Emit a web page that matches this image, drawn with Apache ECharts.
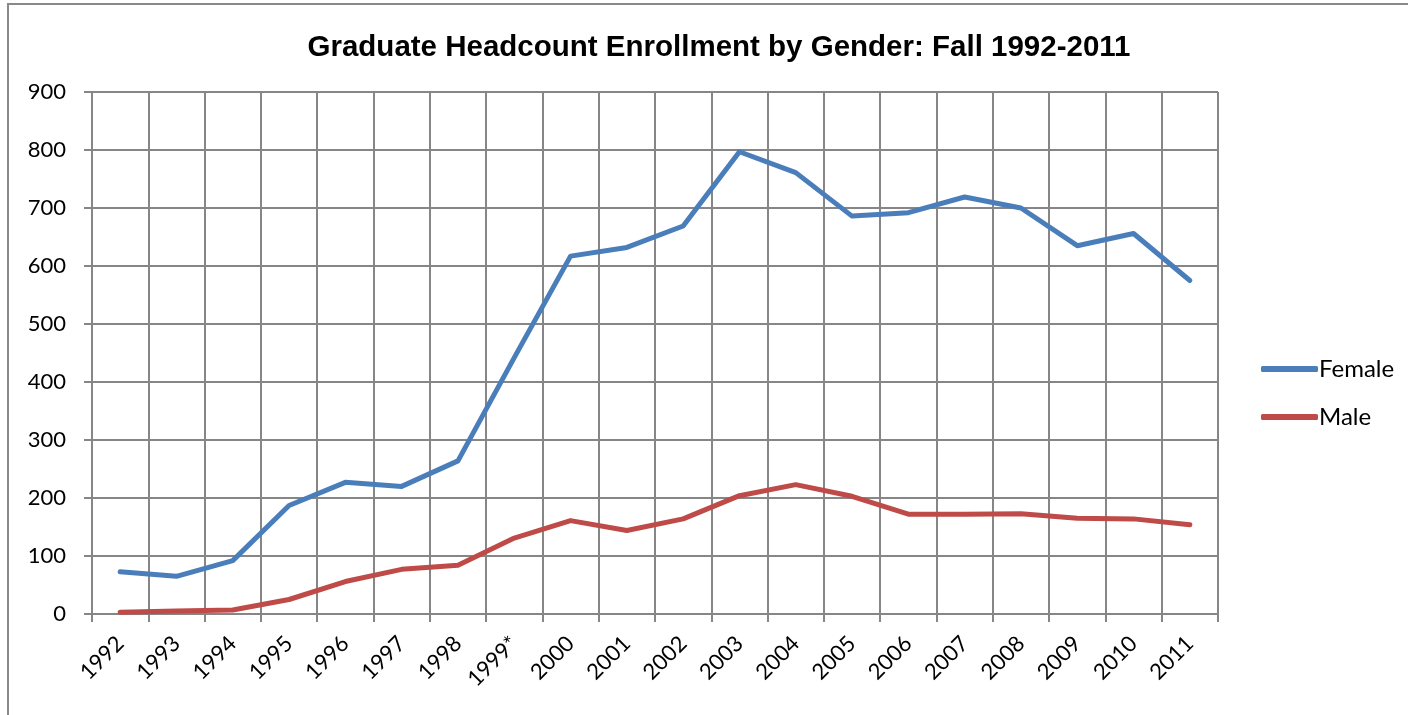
<!DOCTYPE html>
<html>
<head>
<meta charset="utf-8">
<script src="https://cdn.jsdelivr.net/npm/echarts@6/dist/echarts.min.js"></script>
<style>html,body{margin:0;padding:0;background:#fff}#c{width:1408px;height:715px}</style>
</head>
<body>
<div id="c"></div>
<script>
const categories = ['1992','1993','1994','1995','1996','1997','1998','1999*','2000','2001','2002','2003','2004','2005','2006','2007','2008','2009','2010','2011'];
const female = [73,65,92,187,227,220,264,442,617,632,669,797,761,686,692,719,700,635,656,575];
const male = [3,5,7,25,56,77,84,131,161,144,164,204,223,203,172,172,173,165,164,154];
const yTicks = {min:0, max:900, interval:100};

const chart = echarts.init(document.getElementById('c'), null, {renderer:'canvas'});
const gridColor = '#868686';
chart.setOption({
  animation:false,
  backgroundColor:'#fff',
  graphic:[{type:'rect', shape:{x:8,y:4,width:1430,height:740}, style:{fill:'none', stroke:'#898989', lineWidth:2}, silent:true}],
  title:{text:'Graduate Headcount Enrollment by Gender: Fall 1992-2011', left:714, top:28, textAlign:'center',
    textStyle:{fontFamily:'Liberation Sans', fontWeight:'bold', fontSize:29.5, color:'#000'}},
  legend:{orient:'vertical', left:1256, top:352, itemWidth:57, itemHeight:6, itemGap:24,
    icon:'roundRect',
    textStyle:{fontFamily:'Lato', fontSize:24, color:'#000', padding:[0,0,0,-4]},
    data:[{name:'Female', itemStyle:{color:'#4A7EBB'}}, {name:'Male', itemStyle:{color:'#BE4B48'}}]},
  grid:{left:92, right:190, top:92, bottom:101, containLabel:false},
  xAxis:{type:'category', data:categories, boundaryGap:true,
    axisLine:{lineStyle:{color:gridColor, width:2}},
    axisTick:{show:true, length:8, interval:0, lineStyle:{color:gridColor, width:2}},
    splitLine:{show:true, interval:0, lineStyle:{color:gridColor, width:2}},
    axisLabel:{interval:0, rotate:45, margin:26, fontFamily:'Lato', fontSize:22, color:'#000'}},
  yAxis:{type:'value', min:yTicks.min, max:yTicks.max, interval:yTicks.interval,
    axisLine:{show:true, lineStyle:{color:gridColor, width:2}},
    axisTick:{show:true, length:8, lineStyle:{color:gridColor, width:2}},
    splitLine:{show:true, lineStyle:{color:gridColor, width:2}},
    axisLabel:{margin:26, fontFamily:'Lato', fontSize:22, color:'#000'}},
  series:[
    {name:'Female', type:'line', data:female, showSymbol:false, symbol:'none', lineStyle:{color:'#4A7EBB', width:5, cap:'round', join:'round'}, itemStyle:{color:'#4A7EBB'}},
    {name:'Male', type:'line', data:male, showSymbol:false, symbol:'none', lineStyle:{color:'#BE4B48', width:5, cap:'round', join:'round'}, itemStyle:{color:'#BE4B48'}}
  ]
});
</script>
</body>
</html>
